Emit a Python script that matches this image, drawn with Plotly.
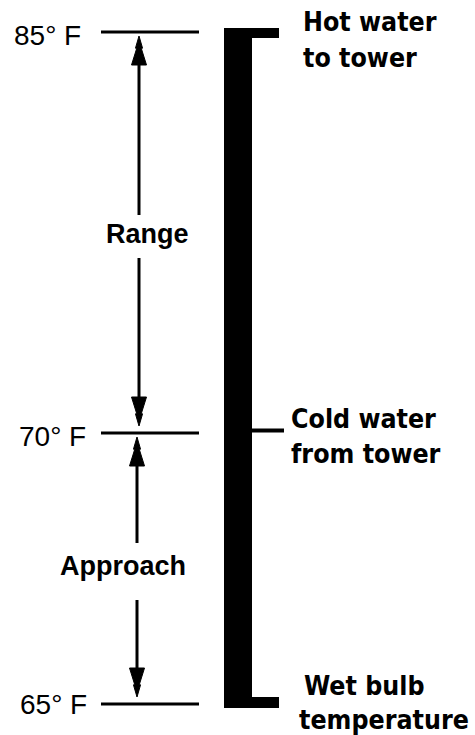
import plotly.graph_objects as go

# ---- data ----
temps = [85, 70, 65]
temp_labels = [f"{t}° F" for t in temps]
interval_names = ["Range", "Approach"]          # 85->70, 70->65
stream_lines = [["Hot water", "to tower"],
                ["Cold water", "from tower"],
                ["Wet bulb", "temperature"]]

# ---- layout positions (schematic, pixel-like coordinates) ----
W, H = 475, 735
level_y = [32, 433, 704]            # y of each temperature level line
level_x0, level_x1 = 101, 199
label_right_x = [83, 88, 89]
label_dy = [3, 3, 0]
arrow_x = [139, 137]
arrow_gap = [(215, 258), (543, 600)]
name_pos = [(147, 234), (123, 566)]
bar_x0, bar_x1, cap_x1 = 224, 252, 279
bar_top, bar_bot = 28, 708
tick_y, tick_x1 = 430.5, 284
stream_x = [301, 289, 302]
stream_x_second = [301, 289, 297]
stream_line_y = [[21, 57], [418, 453], [685, 719]]

fig = go.Figure()
fig.add_trace(go.Scatter(x=[0, W], y=[0, H], mode="markers",
                         marker=dict(opacity=0), hoverinfo="skip", showlegend=False))

shapes = []
annotations = []

# level lines + labels
for t, lab, y, rx, dy in zip(temps, temp_labels, level_y, label_right_x, label_dy):
    shapes.append(dict(type="line", x0=level_x0, x1=level_x1, y0=y, y1=y,
                       line=dict(color="black", width=3)))
    annotations.append(dict(x=rx, y=y + dy, text=lab, showarrow=False,
                            xanchor="right", yanchor="middle",
                            font=dict(family="Liberation Sans, Arial", size=28, color="black")))


def head(x, tip, direction):
    # direction: -1 points up, +1 points down
    s = -direction
    pts = [(x, tip), (x + 3.5, tip + s * 12), (x + 2.5, tip + s * 13),
           (x + 7.5, tip + s * 29), (x - 7.5, tip + s * 29),
           (x - 2.5, tip + s * 13), (x - 3.5, tip + s * 12)]
    return "M " + " L ".join(f"{a},{b}" for a, b in pts) + " Z"


# interval arrows
for i, name in enumerate(interval_names):
    x = arrow_x[i]
    y_top = level_y[i]
    y_bot = level_y[i + 1]
    g0, g1 = arrow_gap[i]
    tip_up = y_top + 4
    tip_dn = y_bot - 7
    shapes.append(dict(type="line", x0=x, x1=x, y0=g0, y1=tip_up + 20,
                       line=dict(color="black", width=3)))
    shapes.append(dict(type="line", x0=x, x1=x, y0=g1, y1=tip_dn - 20,
                       line=dict(color="black", width=3)))
    shapes.append(dict(type="path", path=head(x, tip_up, -1),
                       fillcolor="black", line=dict(color="black", width=1)))
    shapes.append(dict(type="path", path=head(x, tip_dn, 1),
                       fillcolor="black", line=dict(color="black", width=1)))
    nx, ny = name_pos[i]
    annotations.append(dict(x=nx, y=ny, text=name, showarrow=False,
                            xanchor="center", yanchor="middle",
                            font=dict(family="Liberation Sans, Arial", size=27,
                                      color="black", weight="bold")))

# thick bracket bar
bar_path = (f"M {bar_x0},{bar_top} L {cap_x1},{bar_top} L {cap_x1},{bar_top + 10} "
            f"L {bar_x1},{bar_top + 10} L {bar_x1},{bar_bot - 11} L {cap_x1},{bar_bot - 11} "
            f"L {cap_x1},{bar_bot} L {bar_x0},{bar_bot} Z")
shapes.append(dict(type="path", path=bar_path, fillcolor="black",
                   line=dict(color="black", width=0)))
shapes.append(dict(type="line", x0=bar_x1 - 2, x1=tick_x1, y0=tick_y, y1=tick_y,
                   line=dict(color="black", width=4)))

# stream labels
for lines, sx, sx2, ys in zip(stream_lines, stream_x, stream_x_second, stream_line_y):
    for txt, xx, yy in zip(lines, [sx, sx2], ys):
        annotations.append(dict(x=xx, y=yy, text=txt, showarrow=False,
                                xanchor="left", yanchor="middle",
                                font=dict(family="DejaVu Sans Condensed, DejaVu Sans",
                                          size=26.5, color="black", weight="bold")))

fig.update_layout(
    width=W, height=H,
    margin=dict(l=0, r=0, t=0, b=0),
    paper_bgcolor="white", plot_bgcolor="white",
    xaxis=dict(range=[0, W], visible=False, fixedrange=True),
    yaxis=dict(range=[H, 0], visible=False, fixedrange=True),
    shapes=shapes, annotations=annotations,
    showlegend=False,
    hovermode=False,
)

fig.write_html("out.html",
               config={"displayModeBar": False, "staticPlot": True},
               post_script="document.body.style.margin='0px';document.body.style.overflow='hidden';")
